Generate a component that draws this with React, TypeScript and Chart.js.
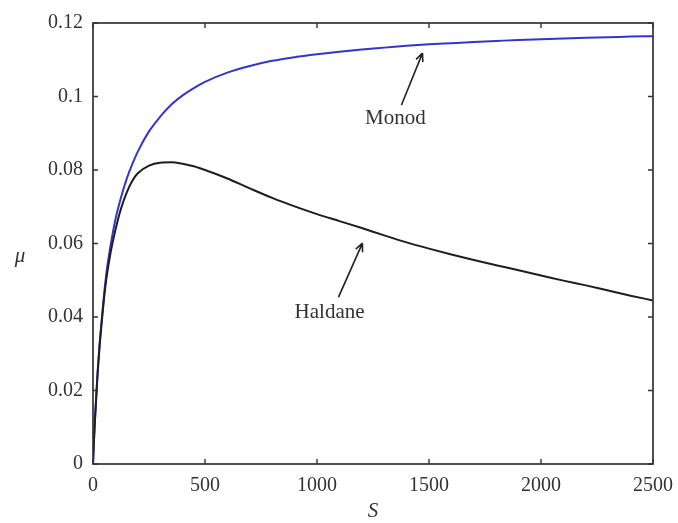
import React, { useEffect, useRef } from "react";
import { Chart, registerables } from "chart.js";

Chart.register(...registerables);

// Substrate concentration S
const sValues = [0, 5, 10, 20, 30, 40, 50, 60, 80, 100, 125, 150, 175, 200, 250, 300, 350, 400, 450, 500, 600, 700, 800, 900, 1000, 1100, 1200, 1300, 1400, 1500, 1600, 1700, 1800, 1900, 2000, 2100, 2200, 2300, 2400, 2500];
// Monod growth rate
const monodValues = [0, 0.0075, 0.0135, 0.0245, 0.033, 0.04, 0.0465, 0.052, 0.06, 0.0665, 0.0725, 0.0775, 0.0815, 0.085, 0.0905, 0.0945, 0.0978, 0.1003, 0.1023, 0.104, 0.1065, 0.1083, 0.1097, 0.1107, 0.1115, 0.1122, 0.1128, 0.1133, 0.1138, 0.1142, 0.1145, 0.1148, 0.1151, 0.1154, 0.1156, 0.1158, 0.116, 0.1161, 0.1163, 0.1164];
// Haldane growth rate
const haldaneValues = [0, 0.0074, 0.0133, 0.024, 0.0325, 0.0392, 0.0455, 0.0505, 0.058, 0.0637, 0.0695, 0.0738, 0.077, 0.0791, 0.0812, 0.082, 0.0821, 0.0817, 0.081, 0.08, 0.0777, 0.075, 0.0724, 0.0701, 0.068, 0.0661, 0.0642, 0.0622, 0.0603, 0.0586, 0.057, 0.0555, 0.0541, 0.0527, 0.0513, 0.0499, 0.0486, 0.0472, 0.0458, 0.0445];

const xTickMax = 2500;
const xTickStep = 500;
const yTickMax = 0.12;
const yTickStep = 0.02;

// Annotations in data coordinates
const annotationLabels = ["Monod", "Haldane"];
const annotationText = [[1350, 0.0941], [1056, 0.0411]];
const annotationTail = [[1377, 0.0977], [1096, 0.0454]];
const annotationHead = [[1471, 0.1118], [1203, 0.0601]];

const FONT = '"Liberation Serif", "DejaVu Serif", serif';
const INK = "#333333";

const framePlugin = {
  id: "framePlugin",
  afterDraw(chart: any) {
    const { ctx, chartArea } = chart;
    const { left, right, top, bottom } = chartArea;
    const xs = chart.scales.x;
    const ys = chart.scales.y;
    ctx.save();
    ctx.strokeStyle = INK;
    ctx.lineWidth = 1.7;
    ctx.strokeRect(left, top, right - left, bottom - top);
    const tl = 5;
    ctx.lineWidth = 1.4;
    ctx.beginPath();
    xs.ticks.forEach((t: any) => {
      const px = xs.getPixelForValue(t.value);
      ctx.moveTo(px, bottom);
      ctx.lineTo(px, bottom - tl);
      ctx.moveTo(px, top);
      ctx.lineTo(px, top + tl);
    });
    ys.ticks.forEach((t: any) => {
      const py = ys.getPixelForValue(t.value);
      ctx.moveTo(left, py);
      ctx.lineTo(left + tl, py);
      ctx.moveTo(right, py);
      ctx.lineTo(right - tl, py);
    });
    ctx.stroke();

    // Axis titles
    ctx.fillStyle = INK;
    ctx.font = `italic 21px ${FONT}`;
    ctx.textAlign = "center";
    ctx.textBaseline = "middle";
    ctx.fillText("S", (left + right) / 2, 511);
    ctx.fillText("\u03bc", 20, 256);

    // Annotations
    ctx.font = `21px ${FONT}`;
    annotationLabels.forEach((label, i) => {
      const tx = xs.getPixelForValue(annotationText[i][0]);
      const ty = ys.getPixelForValue(annotationText[i][1]);
      ctx.fillText(label, tx, ty);
      const x0 = xs.getPixelForValue(annotationTail[i][0]);
      const y0 = ys.getPixelForValue(annotationTail[i][1]);
      const x1 = xs.getPixelForValue(annotationHead[i][0]);
      const y1 = ys.getPixelForValue(annotationHead[i][1]);
      ctx.strokeStyle = "#222";
      ctx.lineWidth = 1.6;
      ctx.beginPath();
      ctx.moveTo(x0, y0);
      ctx.lineTo(x1, y1);
      const ang = Math.atan2(y1 - y0, x1 - x0);
      const hl = 9;
      const spread = 0.42;
      ctx.moveTo(x1, y1);
      ctx.lineTo(x1 - hl * Math.cos(ang - spread), y1 - hl * Math.sin(ang - spread));
      ctx.moveTo(x1, y1);
      ctx.lineTo(x1 - hl * Math.cos(ang + spread), y1 - hl * Math.sin(ang + spread));
      ctx.stroke();
    });
    ctx.restore();
  },
};

export default function App() {
  const canvasRef = useRef<HTMLCanvasElement | null>(null);

  useEffect(() => {
    document.body.style.margin = "0";
    const canvas = canvasRef.current;
    if (!canvas) return;
    const monodData = sValues.map((s, i) => ({ x: s, y: monodValues[i] }));
    const haldaneData = sValues.map((s, i) => ({ x: s, y: haldaneValues[i] }));
    const chart = new Chart(canvas, {
      type: "line",
      data: {
        datasets: [
          {
            label: "Haldane",
            data: haldaneData,
            borderColor: "#1e1e1e",
            borderWidth: 2,
            pointRadius: 0,
            cubicInterpolationMode: "monotone",
            fill: false,
          },
          {
            label: "Monod",
            data: monodData,
            borderColor: "#3434d0",
            borderWidth: 2,
            pointRadius: 0,
            cubicInterpolationMode: "monotone",
            fill: false,
          },
        ],
      },
      options: {
        responsive: false,
        animation: false,
        devicePixelRatio: 1,
        layout: { padding: { left: 0, top: 23, right: 25, bottom: 0 } },
        plugins: {
          legend: { display: false },
          tooltip: { enabled: false },
        },
        scales: {
          x: {
            type: "linear",
            min: 0,
            max: xTickMax,
            border: { display: false },
            grid: { display: false, drawTicks: false },
            ticks: {
              stepSize: xTickStep,
              padding: 10,
              color: INK,
              font: { family: FONT, size: 20 },
              maxRotation: 0,
              callback: (v: any) => String(v),
            },
            afterFit: (s: any) => {
              s.height = 59;
              s.paddingLeft = 0;
              s.paddingRight = 0;
            },
          },
          y: {
            type: "linear",
            min: 0,
            max: yTickMax,
            border: { display: false },
            grid: { display: false, drawTicks: false },
            ticks: {
              stepSize: yTickStep,
              padding: 10,
              color: INK,
              font: { family: FONT, size: 20 },
              callback: (v: any) => String(Number(Number(v).toFixed(2))),
            },
            afterFit: (s: any) => {
              s.width = 93;
              s.paddingTop = 0;
              s.paddingBottom = 0;
            },
          },
        },
      },
      plugins: [framePlugin],
    });
    return () => chart.destroy();
  }, []);

  return (
    <div style={{ position: "fixed", left: 0, top: 0, width: 678, height: 523, background: "#fff" }}>
      <canvas ref={canvasRef} width={678} height={523} />
    </div>
  );
}
